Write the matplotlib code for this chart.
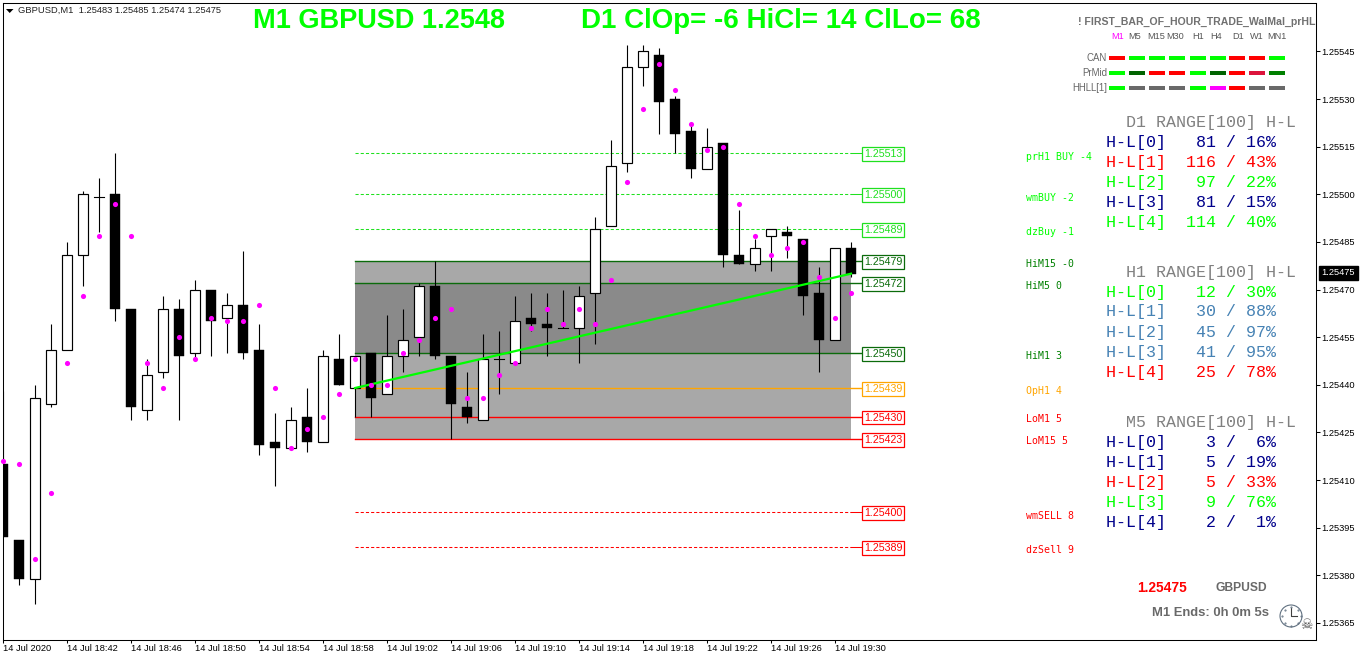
import matplotlib
matplotlib.use("Agg")
import matplotlib.pyplot as plt
from matplotlib.patches import Circle, Polygon, Rectangle

W, H = 1362, 660

# M1 candles, one per minute starting 18:38
opens = [1.25415, 1.25391, 1.25379, 1.25434, 1.25451, 1.25481, 1.25499, 1.25500, 1.25464, 1.25432,
         1.25444, 1.25464, 1.25450, 1.25470, 1.25461, 1.25465, 1.25451, 1.25422, 1.25420, 1.25430,
         1.25422, 1.25448, 1.25439, 1.25450, 1.25437, 1.25449, 1.25455, 1.25471, 1.25449, 1.25433,
         1.25429, 1.25448, 1.25447, 1.25461, 1.25459, 1.25458, 1.25458, 1.25469, 1.25490, 1.25510,
         1.25540, 1.25544, 1.25530, 1.25520, 1.25508, 1.25516, 1.25481, 1.25478, 1.25487, 1.25488,
         1.25486, 1.25469, 1.25454, 1.25483]
highs = [1.25438, 1.25391, 1.25440, 1.25459, 1.25485, 1.25501, 1.25505, 1.25513, 1.25464, 1.25448,
         1.25468, 1.25467, 1.25473, 1.25470, 1.25469, 1.25482, 1.25459, 1.25431, 1.25433, 1.25439,
         1.25451, 1.25456, 1.25449, 1.25450, 1.25462, 1.25464, 1.25472, 1.25479, 1.25449, 1.25444,
         1.25456, 1.25457, 1.25468, 1.25469, 1.25469, 1.25470, 1.25471, 1.25493, 1.25517, 1.25547,
         1.25547, 1.25546, 1.25531, 1.25522, 1.25521, 1.25516, 1.25495, 1.25486, 1.25489, 1.25490,
         1.25486, 1.25477, 1.25483, 1.25485]
lows = [1.25392, 1.25377, 1.25371, 1.25433, 1.25451, 1.25471, 1.25488, 1.25460, 1.25429, 1.25429,
        1.25442, 1.25429, 1.25448, 1.25449, 1.25450, 1.25448, 1.25418, 1.25408, 1.25420, 1.25419,
        1.25422, 1.25440, 1.25430, 1.25430, 1.25437, 1.25444, 1.25449, 1.25448, 1.25423, 1.25428,
        1.25429, 1.25437, 1.25447, 1.25457, 1.25449, 1.25458, 1.25447, 1.25453, 1.25490, 1.25507,
        1.25534, 1.25519, 1.25513, 1.25505, 1.25508, 1.25477, 1.25478, 1.25476, 1.25476, 1.25480,
        1.25462, 1.25444, 1.25454, 1.25474]
closes = [1.25392, 1.25379, 1.25436, 1.25451, 1.25481, 1.25500, 1.25499, 1.25464, 1.25433, 1.25443,
          1.25464, 1.25449, 1.25470, 1.25460, 1.25465, 1.25450, 1.25421, 1.25420, 1.25429, 1.25422,
          1.25449, 1.25440, 1.25449, 1.25436, 1.25449, 1.25454, 1.25471, 1.25449, 1.25434, 1.25430,
          1.25448, 1.25448, 1.25460, 1.25459, 1.25458, 1.25458, 1.25468, 1.25489, 1.25509, 1.25540,
          1.25545, 1.25529, 1.25519, 1.25508, 1.25515, 1.25481, 1.25478, 1.25483, 1.25489, 1.25487,
          1.25468, 1.25454, 1.25483, 1.25475]

# magenta indicator dots
dots = [1.25416, 1.25415, 1.25385, 1.25406, 1.25447, 1.25468, 1.25487, 1.25497, 1.25487, 1.25447,
        1.25439, 1.25455, 1.25448, 1.25461, 1.25460, 1.25460, 1.25465, 1.25439, 1.25420, 1.25426,
        1.25430, 1.25437, 1.25448, 1.25440, 1.25440, 1.25450, 1.25454, 1.25461, 1.25464, 1.25436,
        1.25436, 1.25443, 1.25447, 1.25458, 1.25464, 1.25459, 1.25464, 1.25459, 1.25473, 1.25504,
        1.25527, 1.25541, 1.25533, 1.25522, 1.25514, 1.25515, 1.25497, 1.25487, 1.25481, 1.25483,
        1.25485, 1.25474, 1.25461, 1.25469]

price_ticks = [1.25365, 1.25380, 1.25395, 1.25410, 1.25425, 1.25440, 1.25455, 1.25470,
               1.25485, 1.25500, 1.25515, 1.25530, 1.25545]
time_labels = ["14 Jul 2020", "14 Jul 18:42", "14 Jul 18:46", "14 Jul 18:50", "14 Jul 18:54",
               "14 Jul 18:58", "14 Jul 19:02", "14 Jul 19:06", "14 Jul 19:10", "14 Jul 19:14",
               "14 Jul 19:18", "14 Jul 19:22", "14 Jul 19:26", "14 Jul 19:30"]

solid_levels = [1.25479, 1.25472, 1.25450, 1.25439, 1.25430, 1.25423]
solid_colors = ["#0b6b0b", "#0b6b0b", "#0b6b0b", "orange", "red", "red"]
dash_levels = [1.25513, 1.25500, 1.25489, 1.25400, 1.25389]
dash_colors = ["#1fe01f", "#1fe01f", "#1fe01f", "red", "red"]
trend_prices = [1.25439, 1.25475]

side_labels = ["prH1 BUY -4", "wmBUY -2", "dzBuy -1", "HiM15 -0", "HiM5 0", "HiM1 3",
               "OpH1 4", "LoM1 5", "LoM15 5", "wmSELL 8", "dzSell 9"]
side_colors = ["lime", "lime", "lime", "green", "green", "green",
               "orange", "red", "red", "red", "red"]
side_rows = [157, 198, 232, 264, 286, 356, 391, 419, 441, 516, 550]

timeframes = ["M1", "M5", "M15", "M30", "H1", "H4", "D1", "W1", "MN1"]
tf_centers = [1118, 1135, 1156, 1175, 1198, 1216, 1238, 1257, 1277]
tf_lefts = [1109, 1129, 1149, 1169, 1190, 1210, 1229, 1249, 1269]
can_colors = ["red", "lime", "lime", "lime", "lime", "lime", "red", "red", "lime"]
prmid_colors = ["lime", "darkgreen", "red", "red", "lime", "darkgreen", "red", "crimson", "green"]
hhll_colors = ["lime", "dimgray", "dimgray", "dimgray", "lime", "magenta", "red", "dimgray", "dimgray"]

d1_range = [81, 116, 97, 81, 114]
d1_pct = [16, 43, 22, 15, 40]
d1_colors = ["darkblue", "red", "lime", "darkblue", "lime"]
h1_range = [12, 30, 45, 41, 25]
h1_pct = [30, 88, 97, 95, 78]
h1_colors = ["lime", "steelblue", "steelblue", "steelblue", "red"]
m5_range = [3, 5, 5, 9, 2]
m5_pct = [6, 19, 33, 76, 1]
m5_colors = ["darkblue", "darkblue", "red", "lime", "darkblue"]


def fx(x):
    return x / W


def fy(y):
    return 1 - y / H


def put(x, y, s, **kw):
    # place a text by pixel position in the figure
    kw.setdefault("va", "center")
    return fig.text(fx(x), fy(y), s, **kw)


plt.rcParams["font.family"] = ["Liberation Sans", "DejaVu Sans"]
fig = plt.figure(figsize=(W / 100, H / 100), dpi=100)
ax = fig.add_axes([2.5 / W, 1 - 639.5 / H, 1314 / W, 637 / H])
ax.set_xlim(-0.03, 82.09)
ax.set_ylim(1.253598, 1.255604)
for s in ax.spines.values():
    s.set_linewidth(0.75)

# price and time scales
ax.yaxis.tick_right()
ax.set_yticks(price_ticks)
ax.set_yticklabels(["%.5f" % p for p in price_ticks])
ax.set_xticks(range(0, 56, 4))
ax.set_xticklabels(time_labels, ha="left")
ax.tick_params(axis="y", length=3, width=0.75, pad=0.2, labelsize=6.7)
ax.tick_params(axis="x", length=2, width=0.75, pad=1.5, labelsize=6.7)

# shaded ranges
ax.add_patch(Rectangle((22, 1.25423), 31, 0.00056, fc="#a8a8a8", ec="none", zorder=1))
ax.add_patch(Rectangle((22, 1.25450), 31, 0.00022, fc="#8a8a8a", ec="none", zorder=1.1))

# levels with their price boxes
levels = solid_levels + dash_levels
colors = solid_colors + dash_colors
for n, (lev, col) in enumerate(zip(levels, colors)):
    if n < len(solid_levels):
        ax.plot([22, 53.7], [lev, lev], color=col, lw=1.0, zorder=1.5)
    else:
        ax.plot([22, 53], [lev, lev], color=col, lw=0.75, ls=(0, (3, 2)), zorder=1.5)
        ax.plot([53, 53.7], [lev, lev], color=col, lw=0.75, zorder=1.5)
    ax.text(53.82, lev, "%.5f" % lev, color=col, fontsize=7.7, ha="left", va="center_baseline",
            bbox=dict(fc="white", ec=col, lw=0.9, boxstyle="square,pad=0.17"), zorder=3)

# candles
xs = list(range(len(opens)))
ax.vlines(xs, lows, highs, color="black", lw=0.8, zorder=2)
for x, o, c in zip(xs, opens, closes):
    if o == c:
        ax.plot([x - 0.33, x + 0.33], [o, o], color="black", lw=0.8, zorder=2.2)
    elif c > o:
        ax.bar(x, c - o, bottom=o, width=0.62, fc="white", ec="black", lw=0.85, zorder=2.2)
    else:
        ax.bar(x, o - c, bottom=c, width=0.68, fc="black", ec="black", lw=0.3, zorder=2.2)

ax.plot([22, 53], trend_prices, color="lime", lw=1.6, zorder=2.5)
ax.plot(xs, dots, ls="none", marker="o", ms=3.7, mfc="magenta", mec="none", zorder=2.8, clip_on=False)

# current price tag on the scale
put(1338.5, 273, "1.25475", color="white", fontsize=6.7, ha="center",
    bbox=dict(fc="black", ec="black", boxstyle="square,pad=0.25"), zorder=5)

# header
fig.add_artist(Polygon([[fx(6), fy(9)], [fx(13.5), fy(9)], [fx(9.7), fy(13)]], closed=True,
                       fc="black", ec="none", transform=fig.transFigure))
put(18, 10.5, "GBPUSD,M1  1.25483 1.25485 1.25474 1.25475", color="#222222", fontsize=6.75, ha="left")
put(253, 20.5, "M1 GBPUSD 1.2548", color="lime", fontsize=19.55, fontweight="bold", ha="left")
put(581, 20.5, "D1 ClOp= -6 HiCl= 14 ClLo= 68", color="lime", fontsize=19.95, fontweight="bold", ha="left")

# side labels
for s, col, y in zip(side_labels, side_colors, side_rows):
    put(1025.5, y, s, color=col, fontsize=7.1, family="DejaVu Sans Mono", ha="left")

# timeframe grid
put(1315, 22, "! FIRST_BAR_OF_HOUR_TRADE_WalMal_prHL", color="#707070", fontsize=7.55,
    fontweight="bold", ha="right")
for n, (tf, x) in enumerate(zip(timeframes, tf_centers)):
    put(x, 36.5, tf, color="magenta" if n == 0 else "#555555", fontsize=6.6, ha="center")
rows = [(58, "CAN", can_colors), (73, "PrMid", prmid_colors), (88, "HHLL[1]", hhll_colors)]
for y, name, cols in rows:
    put(1107, y, name, color="#666666", fontsize=6.9, ha="right")
    for x, col in zip(tf_lefts, cols):
        fig.add_artist(Rectangle((fx(x), fy(y + 2)), 16 / W, 4 / H, fc=col, ec="none",
                                 transform=fig.transFigure))

# range tables
tables = [("D1", 122, d1_range, d1_pct, d1_colors),
          ("H1", 272, h1_range, h1_pct, h1_colors),
          ("M5", 422, m5_range, m5_pct, m5_colors)]
for name, y, vals, pcts, cols in tables:
    put(1126, y, name + " RANGE[100] H-L", color="#808080", fontsize=11.95,
        family="Liberation Mono", ha="left")
    for k in range(5):
        row = "H-L[%d]%5d / %2d%%" % (k, vals[k], pcts[k])
        put(1106, y + 20 * (k + 1), row, color=cols[k], fontsize=11.95,
            family="Liberation Mono", ha="left")

# bottom right corner
put(1137, 588, "1.25475", color="red", fontsize=9.9, fontweight="bold", ha="left")
put(1216, 588, "GBPUSD", color="#696969", fontsize=8.7, fontweight="bold", ha="left")
put(1152, 613, "M1 Ends: 0h 0m 5s", color="#696969", fontsize=9.4, fontweight="bold", ha="left")

ax_clock = fig.add_axes([1279 / W, 1 - 628 / H, 24 / W, 24 / H])
ax_clock.set_xlim(-12, 12)
ax_clock.set_ylim(-12, 12)
ax_clock.axis("off")
ax_clock.add_patch(Circle((0, 0), 11, fc="white", ec="#607080", lw=0.8))
ax_clock.plot([0, 0, 6], [8, 0, 0], color="#404040", lw=0.8)
for tx, ty in [(0, 9.5), (9.5, 0), (0, -9.5), (-9.5, 0), (6.5, 6.5), (-6.5, 6.5), (6.5, -6.5), (-6.5, -6.5)]:
    ax_clock.plot(tx, ty, marker=".", ms=1, color="#607080")
put(1306, 625, "\u2620", color="#555555", fontsize=10, family="DejaVu Sans", ha="center")

fig.savefig("out.png", dpi=100)
